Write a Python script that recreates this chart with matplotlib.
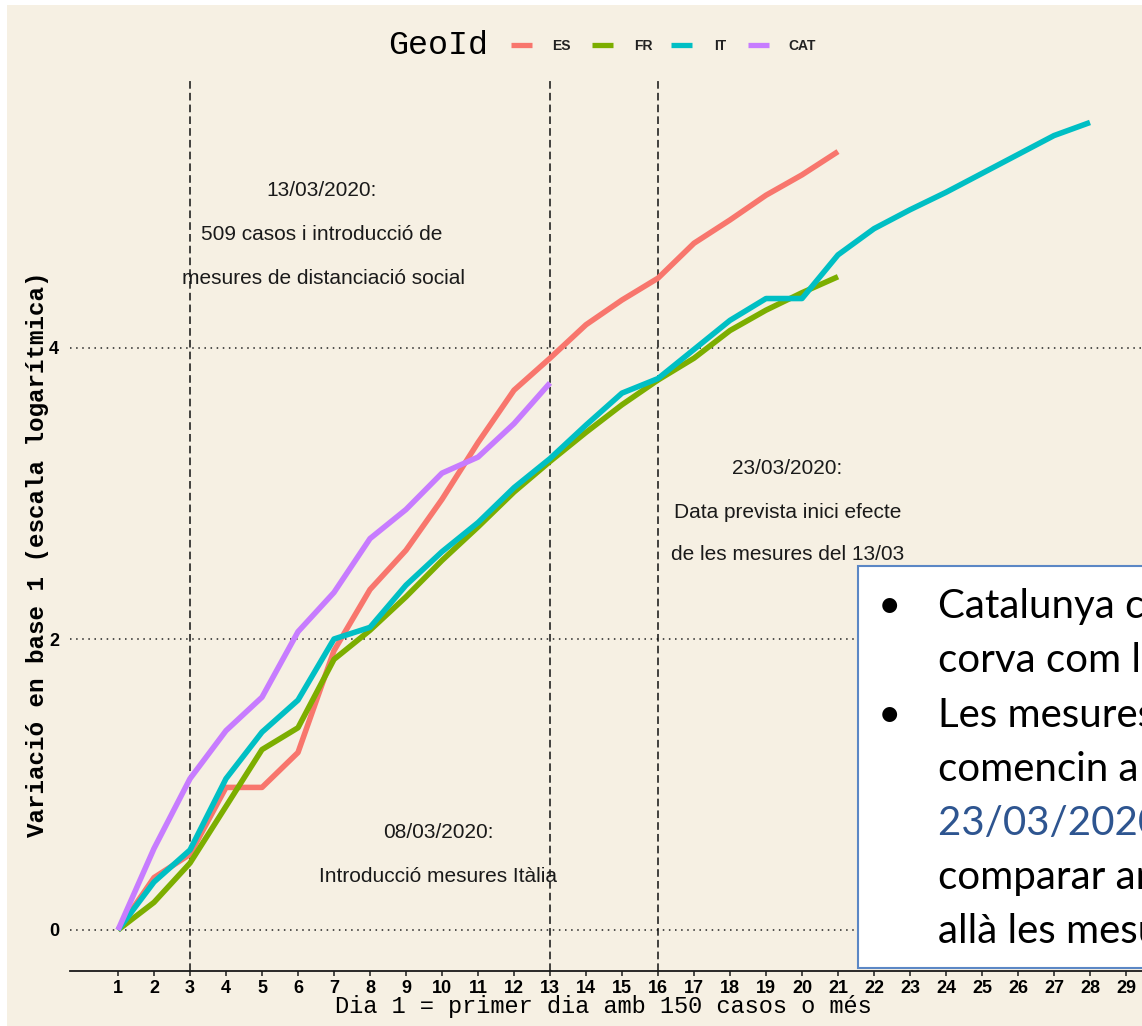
import matplotlib
matplotlib.use('Agg')
import matplotlib.pyplot as plt
from matplotlib.lines import Line2D
from matplotlib.patches import Rectangle

plt.rcParams['font.family'] = ['Liberation Sans', 'DejaVu Sans']

# data (log-scale variation, day 1 = 0)
geo_ids = ['ES', 'FR', 'IT', 'CAT']
colors = ['#F8766D', '#7CAE00', '#00BFC4', '#C77CFF']

es_vals = [0, 0.36, 0.52, 0.98, 0.98, 1.22, 1.92, 2.34, 2.61, 2.96, 3.35,
           3.71, 3.93, 4.16, 4.33, 4.48, 4.72, 4.88, 5.05, 5.19, 5.35]
fr_vals = [0, 0.19, 0.46, 0.85, 1.24, 1.39, 1.86, 2.06, 2.29, 2.54, 2.77,
           3.01, 3.22, 3.42, 3.61, 3.78, 3.93, 4.12, 4.26, 4.38, 4.49]
it_vals = [0, 0.33, 0.55, 1.04, 1.36, 1.58, 2.00, 2.08, 2.37, 2.60, 2.80,
           3.04, 3.24, 3.47, 3.69, 3.79, 3.99, 4.19, 4.34, 4.34, 4.64,
           4.82, 4.95, 5.07, 5.20, 5.33, 5.46, 5.55]
cat_vals = [0, 0.56, 1.04, 1.37, 1.60, 2.05, 2.32, 2.69, 2.89, 3.14, 3.25,
            3.48, 3.76]

x_ticks = list(range(1, 30))
y_ticks = [0, 2, 4]
event_days = [3, 13, 16]

notes = [
    (6.65, 5.08, '13/03/2020:'),
    (6.65, 4.78, '509 casos i introducció de'),
    (6.70, 4.48, 'mesures de distanciació social'),
    (19.6, 3.17, '23/03/2020:'),
    (19.6, 2.87, 'Data prevista inici efecte'),
    (19.6, 2.58, 'de les mesures del 13/03'),
    (9.9, 0.67, '08/03/2020:'),
    (9.9, 0.37, 'Introducció mesures Itàlia'),
]

box_lines = [
    ('•', 'Catalunya comparteix la mateixa', 'black'),
    ('', "corva com la d'Itàlia", 'black'),
    ('•', 'Les mesures del 13/03 es preveu que', 'black'),
    ('', 'comencin a fer efecte a partir del', 'black'),
    ('', '23/03/2020, i es podran', '#2E5590'),
    ('', 'comparar amb Itàlia, on', 'black'),
    ('', 'allà les mesures ja funcionen', 'black'),
]

W, H = 1142, 1026
fig = plt.figure(figsize=(W / 100, H / 100), dpi=100)
fig.patch.set_facecolor('white')
fig.add_artist(Rectangle((7 / W, 0), 1, 1 - 5 / H, transform=fig.transFigure,
                         facecolor='#F6F0E3', edgecolor='none', zorder=-10))

ax = fig.add_axes([70 / W, 1 - 971 / H, 1 - 70 / W, (971 - 81) / H])
ax.set_facecolor('none')

for y in y_ticks:
    ax.axhline(y, color='#222222', lw=1.1, linestyle=(0, (1, 3)), zorder=1)
for d in event_days:
    ax.axvline(d, color='#111111', lw=1.1, linestyle=(0, (5, 2.7)), zorder=1)

series = [es_vals, fr_vals, it_vals, cat_vals]
for vals, col in zip(series, colors):
    days = list(range(1, len(vals) + 1))
    ax.plot(days, vals, color=col, lw=4, solid_capstyle='butt',
            solid_joinstyle='round', zorder=3)

for x, y, s in notes:
    ax.text(x, y, s, ha='center', va='center', fontsize=15, color='#1a1a1a')

for side in ['left', 'right', 'top']:
    ax.spines[side].set_visible(False)
ax.spines['bottom'].set_linewidth(1.3)
ax.spines['bottom'].set_color('#1a1a1a')

ax.set_xticks(x_ticks)
ax.set_xticklabels([str(t) for t in x_ticks], fontsize=13, fontweight='bold')
ax.set_yticks(y_ticks)
ax.set_yticklabels([str(t) for t in y_ticks], fontsize=13, fontweight='bold')
ax.tick_params(axis='x', length=3.5, width=1.1, pad=3, color='#1a1a1a')
ax.tick_params(axis='y', length=0, pad=8)

# limits after the ticks so set_xticks does not widen the view
ax.set_xlim(1 - 48 / 36, 1 + 1024 / 36)
ax.set_ylim(-41 / 145.5, 849 / 145.5)

mono = ['Liberation Mono', 'DejaVu Sans Mono']
fig.text(38 / W, 1 - 554 / H, 'Variació en base 1 (escala logarítmica)',
         rotation=90, ha='center', va='center', fontsize=17.5,
         fontweight='bold', family=mono)
fig.text(603 / W, 1 - 1013 / H, 'Dia 1 = primer dia amb 150 casos o més',
         ha='center', va='baseline', fontsize=17, family=mono)

# legend at the top
fig.text(438 / W, 1 - 45 / H, 'GeoId', ha='center', va='center',
         fontsize=24, family=mono)
key_x = [511, 592, 671, 748]
lab_x = [552, 634, 714, 788]
for kx, lx, col, lab in zip(key_x, lab_x, colors, geo_ids):
    fig.add_artist(Line2D([kx / W, (kx + 21) / W], [1 - 45 / H, 1 - 45 / H],
                          transform=fig.transFigure, color=col, lw=3.8,
                          solid_capstyle='butt'))
    fig.text(lx / W, 1 - 46 / H, lab, ha='left', va='center', fontsize=10,
             fontweight='bold', color='#222222')

# text box overlay (cropped at the right edge)
fig.add_artist(Rectangle((858 / W, 1 - 968 / H), 1, (968 - 566) / H,
                         transform=fig.transFigure, facecolor='white',
                         edgecolor='#5B87C5', lw=1.5, zorder=5))
baselines = [618, 672, 727, 781, 835, 889, 943]
for (bullet, txt, col), by in zip(box_lines, baselines):
    if bullet:
        fig.text(878 / W, 1 - by / H, bullet, ha='left', va='baseline',
                 fontsize=29, family=['Lato', 'DejaVu Sans'], zorder=6)
    fig.text(938 / W, 1 - by / H, txt, ha='left', va='baseline', fontsize=29,
             color=col, family=['Lato', 'DejaVu Sans'], zorder=6)

fig.savefig('out.png', dpi=100)
